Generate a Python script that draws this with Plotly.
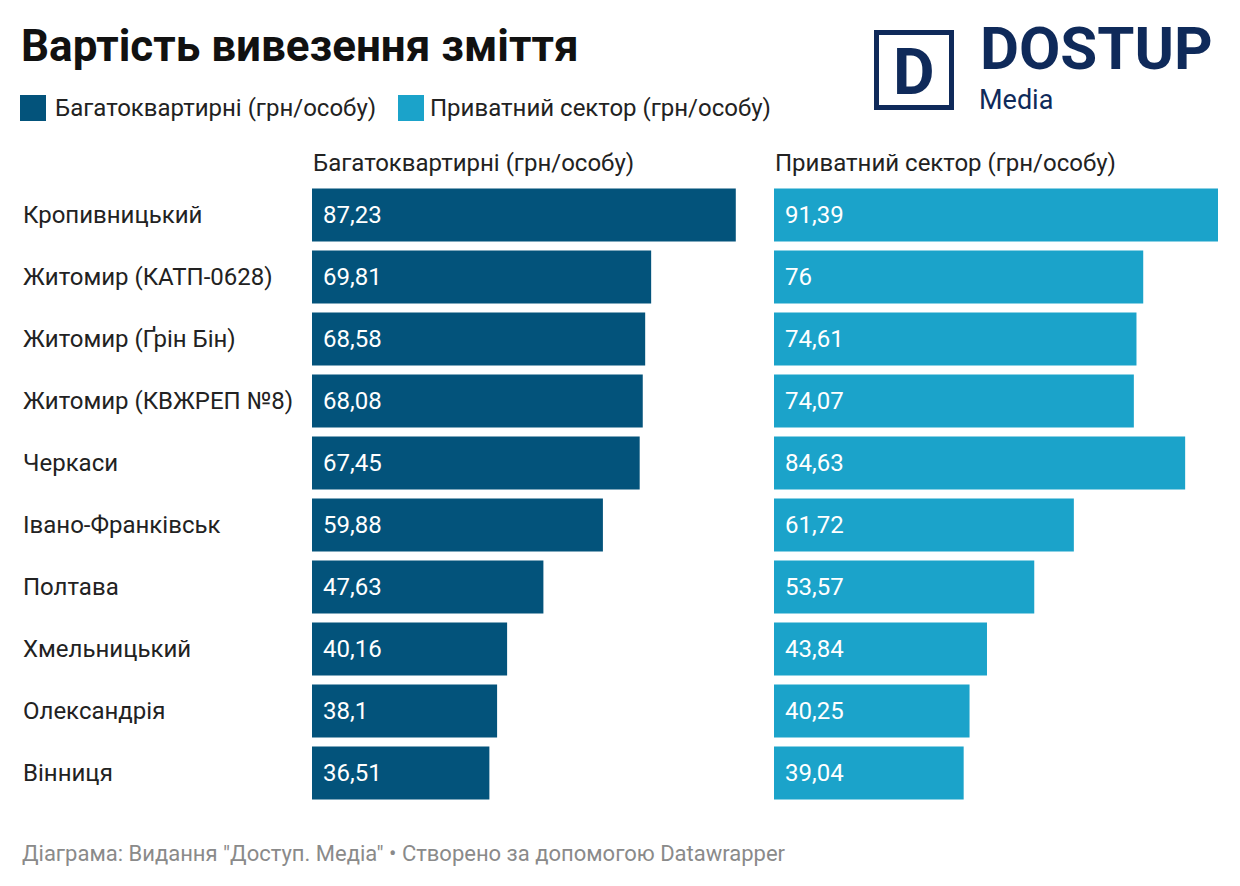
import plotly.graph_objects as go

categories = ["Кропивницький", "Житомир (КАТП-0628)", "Житомир (Ґрін Бін)", "Житомир (КВЖРЕП №8)",
              "Черкаси", "Івано-Франківськ", "Полтава", "Хмельницький", "Олександрія", "Вінниця"]
apartments = [87.23, 69.81, 68.58, 68.08, 67.45, 59.88, 47.63, 40.16, 38.1, 36.51]
private = [91.39, 76, 74.61, 74.07, 84.63, 61.72, 53.57, 43.84, 40.25, 39.04]
series_names = ["Багатоквартирні (грн/особу)", "Приватний сектор (грн/особу)"]
title_text = "Вартість вивезення зміття"
footer_text = 'Діаграма: Видання "Доступ. Медіа" • Створено за допомогою Datawrapper'

W, H = 1240, 886
C1, C2 = "#03537b", "#1ba3ca"
NAVY = "#0f2a5a"
TXT = "#222222"
FONT = "Roboto"
FS = 24

def fmt(v):
    return f"{v:g}".replace(".", ",")

def px(x):
    return x / W

def py(y):
    return 1 - y / H

xmax = max(max(apartments), max(private))

fig = go.Figure()
ann = []
for vals, color, xa, name in [(apartments, C1, "x", series_names[0]), (private, C2, "x2", series_names[1])]:
    fig.add_trace(go.Bar(
        x=vals, y=categories, orientation="h", marker=dict(color=color, line=dict(width=0)),
        xaxis=xa, yaxis="y", name=name, showlegend=False, hoverinfo="skip",
    ))
    for c, v in zip(categories, vals):
        ann.append(dict(text=fmt(v), xref=xa, yref="y", x=0, y=c, xshift=9, xanchor="left",
                        yanchor="middle", showarrow=False, font=dict(family=FONT, size=FS, color="white")))

fig.update_layout(
    width=W, height=H, margin=dict(l=0, r=0, t=0, b=0),
    paper_bgcolor="white", plot_bgcolor="white",
    bargap=0.145,
    font=dict(family=FONT, color=TXT),
    xaxis=dict(domain=[px(312), px(756)], range=[0, xmax], visible=False, fixedrange=True),
    xaxis2=dict(domain=[px(774), px(1218)], range=[0, xmax], visible=False, anchor="y", fixedrange=True),
    yaxis=dict(domain=[py(804), py(184)], type="category", categoryorder="array",
               categoryarray=categories, range=[len(categories) - 0.5, -0.5],
               showticklabels=False, showgrid=False, zeroline=False),
)

# category labels
for c in categories:
    ann.append(dict(text=c, xref="paper", yref="y", x=px(21), y=c, xanchor="left", yanchor="middle",
                    showarrow=False, font=dict(family=FONT, size=FS, color=TXT)))
# panel titles
ann.append(dict(text=series_names[0], xref="paper", yref="paper", x=px(311), y=py(163),
                xanchor="left", yanchor="middle", showarrow=False, font=dict(family=FONT, size=FS, color=TXT)))
ann.append(dict(text=series_names[1], xref="paper", yref="paper", x=px(773), y=py(163),
                xanchor="left", yanchor="middle", showarrow=False, font=dict(family=FONT, size=FS, color=TXT)))
# title
ann.append(dict(text="<b>" + title_text + "</b>", xref="paper", yref="paper", x=px(19), y=py(46),
                xanchor="left", yanchor="middle", showarrow=False, font=dict(family=FONT, size=44, color="#111111")))
# legend
ann.append(dict(text=series_names[0], xref="paper", yref="paper", x=px(53), y=py(108),
                xanchor="left", yanchor="middle", showarrow=False, font=dict(family=FONT, size=FS, color=TXT)))
ann.append(dict(text=series_names[1], xref="paper", yref="paper", x=px(428), y=py(108),
                xanchor="left", yanchor="middle", showarrow=False, font=dict(family=FONT, size=FS, color=TXT)))
# footer
ann.append(dict(text=footer_text, xref="paper", yref="paper", x=px(20), y=py(853),
                xanchor="left", yanchor="middle", showarrow=False, font=dict(family=FONT, size=22, color="#8a8a8a")))
# logo
ann.append(dict(text="<b>D</b>", xref="paper", yref="paper", x=px(914), y=py(72),
                xanchor="center", yanchor="middle", showarrow=False, font=dict(family=FONT, size=64, color=NAVY)))
ann.append(dict(text="<b>DOSTUP</b>", xref="paper", yref="paper", x=px(978), y=py(49),
                xanchor="left", yanchor="middle", showarrow=False,
                font=dict(family=FONT, size=60, color=NAVY)))
ann.append(dict(text="Media", xref="paper", yref="paper", x=px(977), y=py(100),
                xanchor="left", yanchor="middle", showarrow=False,
                font=dict(family=FONT, size=27, color=NAVY)))

shapes = [
    dict(type="rect", xref="paper", yref="paper", x0=px(20), x1=px(46), y0=py(121), y1=py(95),
         fillcolor=C1, line=dict(width=0)),
    dict(type="rect", xref="paper", yref="paper", x0=px(398), x1=px(424), y0=py(121), y1=py(95),
         fillcolor=C2, line=dict(width=0)),
    dict(type="rect", xref="paper", yref="paper", x0=px(876.5), x1=px(951.5), y0=py(107.5), y1=py(32.5),
         fillcolor="rgba(0,0,0,0)", line=dict(width=5, color=NAVY)),
]
fig.update_layout(annotations=ann, shapes=shapes)
fig.write_html("out.html")
